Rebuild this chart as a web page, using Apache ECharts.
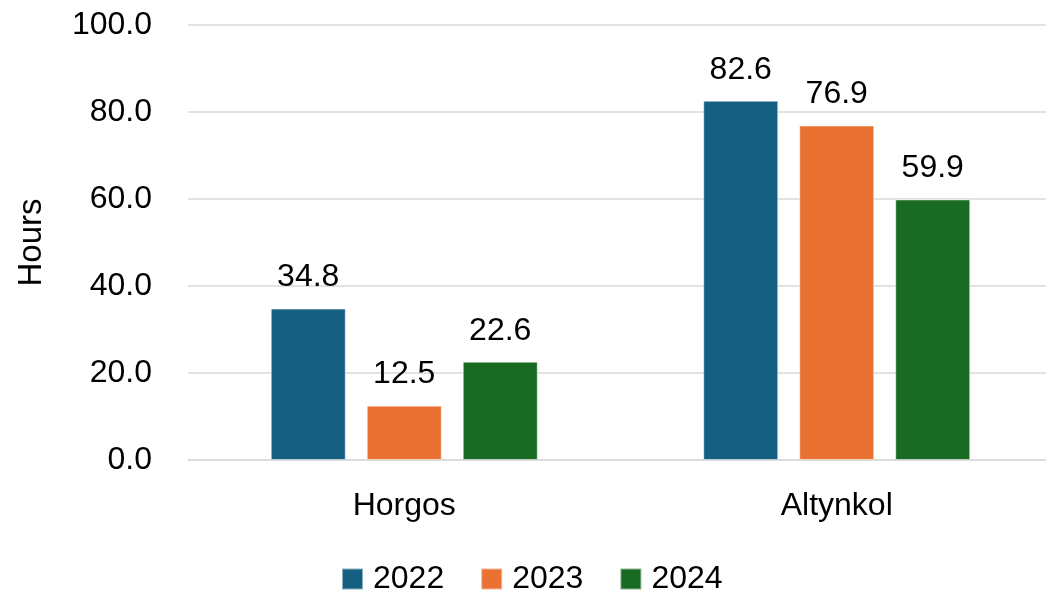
<!DOCTYPE html>
<html>
<head>
<meta charset="utf-8">
<script src="https://cdn.jsdelivr.net/npm/echarts@6/dist/echarts.min.js"></script>
<style>
  html, body { margin: 0; padding: 0; background: #fff; }
  #chart { width: 1046px; height: 590px; }
</style>
</head>
<body>
<div id="chart"></div>
<script>
const categories = ['Horgos', 'Altynkol'];
const years = ['2022', '2023', '2024'];
const values2022 = [34.8, 82.6];
const values2023 = [12.5, 76.9];
const values2024 = [22.6, 59.9];
const colors = ['#156082', '#E97132', '#196B24'];

const font = 'Liberation Sans, Arial, sans-serif';
const seriesData = [values2022, values2023, values2024];

const chart = echarts.init(document.getElementById('chart'));
chart.setOption({
  animation: false,
  textStyle: { fontFamily: font },
  grid: { left: 188, right: -7, top: 25, bottom: 130, outerBoundsMode: 'none', containLabel: false },
  legend: {
    data: years,
    left: 336,
    top: 558,
    itemWidth: 21,
    itemHeight: 21,
    itemGap: 36,
    icon: 'rect',
    textStyle: { fontSize: 32, color: '#000', fontFamily: font, padding: [0, 0, 0, 5] }
  },
  xAxis: {
    type: 'category',
    data: categories,
    axisLine: { lineStyle: { color: '#D9D9D9', width: 1.5 } },
    axisTick: { show: false },
    axisLabel: { fontSize: 32, color: '#000', margin: 30 }
  },
  yAxis: {
    type: 'value',
    min: 0,
    max: 100,
    interval: 20,
    name: 'Hours',
    nameLocation: 'middle',
    nameGap: 140,
    nameRotate: 90,
    nameTextStyle: { fontSize: 33, color: '#000' },
    axisLine: { show: false },
    axisTick: { show: false },
    splitLine: { lineStyle: { color: '#D9D9D9', width: 1.5 } },
    axisLabel: {
      fontSize: 32,
      color: '#000',
      margin: 36,
      formatter: v => v.toFixed(1)
    }
  },
  series: years.map((y, i) => ({
    name: y,
    type: 'bar',
    data: seriesData[i],
    barWidth: 75,
    barGap: '28%',
    itemStyle: { color: colors[i], borderColor: 'rgba(255,255,255,0.5)', borderWidth: 1 },
    label: {
      show: true,
      position: 'top',
      distance: 15,
      fontSize: 32,
      color: '#000',
      formatter: p => p.value.toFixed(1)
    }
  }))
});
</script>
</body>
</html>
